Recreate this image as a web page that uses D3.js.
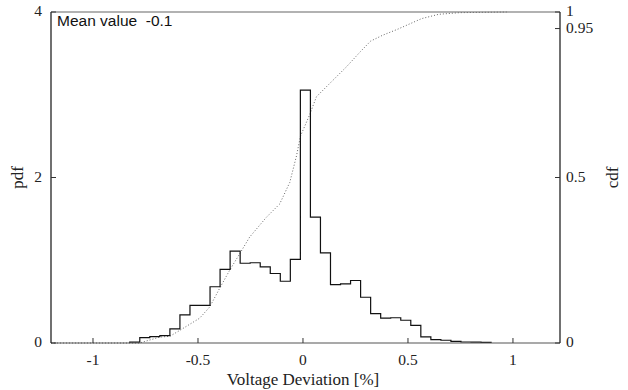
<!DOCTYPE html>
<html lang="en">
<head>
<meta charset="utf-8">
<script src="https://d3js.org/d3.v7.min.js"></script>
<style>
body { margin: 0; background: #fff; }
.tick-lbl { font: 15.5px "Liberation Serif", serif; fill: #222; }
</style>
</head>
<body>
<div id="chart"></div>
<script>
// histogram (pdf) - bin start, bin width and heights per bin
var binStart = -0.825;
var binWidth = 0.0478;
var pdfHeights = [0.01, 0.065, 0.077, 0.09, 0.17, 0.34, 0.455, 0.455, 0.68, 0.89,
  1.11, 0.964, 0.97, 0.92, 0.84, 0.746, 1.01, 3.056, 1.52, 1.09,
  0.705, 0.715, 0.755, 0.553, 0.355, 0.30, 0.305, 0.275, 0.214, 0.073,
  0.04, 0.033, 0.02, 0.012, 0.01, 0.008];

// cumulative curve (cdf)
var cdfX = [-1.2, -0.825, -0.778, -0.682, -0.635, -0.587, -0.492, -0.444, -0.397, -0.349,
  -0.301, -0.254, -0.174, -0.111, -0.063, -0.031, -0.012, 0.032, 0.064, 0.143,
  0.208, 0.273, 0.322, 0.38, 0.451, 0.565, 0.646, 0.746, 0.97];
var cdfY = [0, 0, 0, 0.018, 0.02, 0.038, 0.075, 0.109, 0.165, 0.22,
  0.27, 0.32, 0.38, 0.42, 0.485, 0.565, 0.625, 0.69, 0.744, 0.794,
  0.835, 0.88, 0.912, 0.93, 0.948, 0.98, 0.993, 0.998, 1.0];

var xTicks = [-1, -0.5, 0, 0.5, 1];
var pdfTicks = [0, 2, 4];
var cdfTicks = [0, 0.5, 0.95, 1];
var meanLabel = "Mean value  -0.1";

var width = 628, height = 390;
var plotL = 51, plotR = 560, plotT = 12, plotB = 343;

var x = d3.scaleLinear().domain([-1.2, 1.224]).range([plotL, plotR]);
var yPdf = d3.scaleLinear().domain([0, 4]).range([plotB, plotT]);
var yCdf = d3.scaleLinear().domain([0, 1]).range([plotB, plotT]);

var svg = d3.select("#chart").append("svg")
  .attr("width", width)
  .attr("height", height);

// cdf dotted line
var cdfPts = cdfX.map(function(v, i) { return [v, cdfY[i]]; });
svg.append("path")
  .datum(cdfPts)
  .attr("fill", "none")
  .attr("stroke", "#666")
  .attr("stroke-width", 1)
  .attr("stroke-dasharray", "1,2")
  .attr("d", d3.line().x(function(d) { return x(d[0]); }).y(function(d) { return yCdf(d[1]); }));

// histogram as step line
var histPts = [[binStart, 0]];
pdfHeights.forEach(function(h, i) { histPts.push([binStart + i * binWidth, h]); });
var endEdge = binStart + pdfHeights.length * binWidth;
histPts.push([endEdge, pdfHeights[pdfHeights.length - 1]]);
histPts.push([endEdge, 0]);
svg.append("path")
  .datum(histPts)
  .attr("fill", "none")
  .attr("stroke", "#111")
  .attr("stroke-width", 1.2)
  .attr("d", d3.line().curve(d3.curveStepAfter)
    .x(function(d) { return x(d[0]); }).y(function(d) { return yPdf(d[1]); }));

// frame
svg.append("line").attr("x1", plotL).attr("x2", plotR).attr("y1", plotT).attr("y2", plotT)
  .attr("stroke", "#666").attr("stroke-width", 1.2);
svg.append("line").attr("x1", plotL).attr("x2", plotR).attr("y1", plotB).attr("y2", plotB)
  .attr("stroke", "#555").attr("stroke-width", 1.2);
svg.append("line").attr("x1", plotL).attr("x2", plotL).attr("y1", plotT).attr("y2", plotB)
  .attr("stroke", "#111").attr("stroke-width", 1.2);
svg.append("line").attr("x1", plotR).attr("x2", plotR).attr("y1", plotT).attr("y2", plotB)
  .attr("stroke", "#111").attr("stroke-width", 1.2);

// x ticks (inward)
xTicks.forEach(function(t) {
  svg.append("line").attr("x1", x(t)).attr("x2", x(t)).attr("y1", plotB).attr("y2", plotB - 5)
    .attr("stroke", "#333");
  svg.append("text").attr("class", "tick-lbl").attr("x", x(t)).attr("y", plotB + 22)
    .attr("text-anchor", "middle").text(t);
});

// left pdf ticks
pdfTicks.forEach(function(t) {
  svg.append("line").attr("x1", plotL).attr("x2", plotL + 5).attr("y1", yPdf(t)).attr("y2", yPdf(t))
    .attr("stroke", "#333");
  svg.append("text").attr("class", "tick-lbl").attr("x", plotL - 9).attr("y", yPdf(t) + 4)
    .attr("text-anchor", "end").text(t);
});

// right cdf ticks
cdfTicks.forEach(function(t) {
  svg.append("line").attr("x1", plotR).attr("x2", plotR - 5).attr("y1", yCdf(t)).attr("y2", yCdf(t))
    .attr("stroke", "#333");
  svg.append("text").attr("class", "tick-lbl").attr("x", plotR + 6).attr("y", yCdf(t) + 4)
    .attr("text-anchor", "start").text(t);
});

// axis titles
svg.append("text")
  .attr("transform", "translate(" + 23 + "," + yPdf(2) + ") rotate(-90)")
  .attr("text-anchor", "middle")
  .style("font", "17px 'Liberation Serif', serif").style("fill", "#222")
  .text("pdf");
svg.append("text")
  .attr("transform", "translate(" + 618 + "," + yPdf(2) + ") rotate(-90)")
  .attr("text-anchor", "middle")
  .style("font", "17px 'Liberation Serif', serif").style("fill", "#222")
  .text("cdf");
svg.append("text")
  .attr("x", x(0)).attr("y", 385)
  .attr("text-anchor", "middle")
  .style("font", "17px 'Liberation Serif', serif").style("fill", "#222")
  .text("Voltage Deviation [%]");

// mean annotation
svg.append("text")
  .attr("x", plotL + 6).attr("y", 26)
  .style("font", "15.5px 'Liberation Sans', sans-serif").style("fill", "#111")
  .style("white-space", "pre")
  .text(meanLabel);
</script>
</body>
</html>
